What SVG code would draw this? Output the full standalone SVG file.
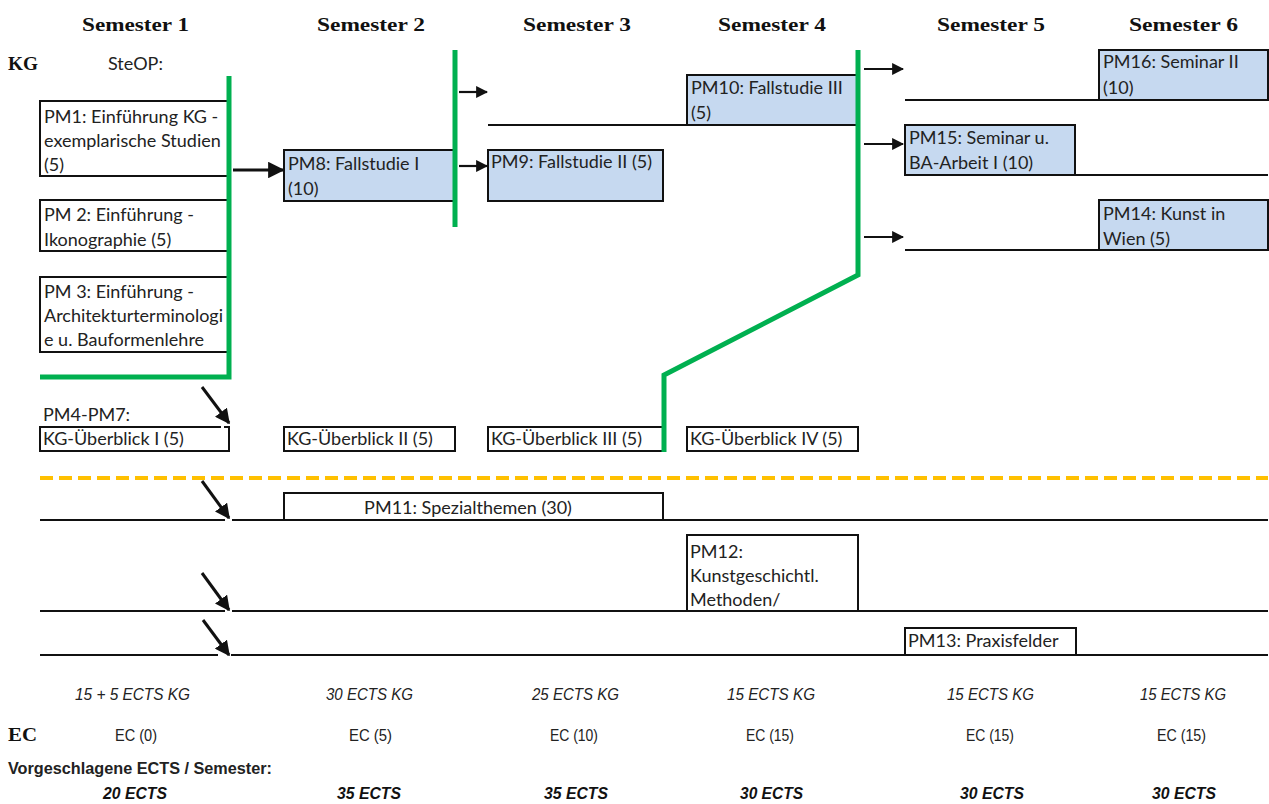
<svg xmlns="http://www.w3.org/2000/svg" width="1269" height="804" viewBox="0 0 1269 804">
<defs>
<style>
.hdr{font-family:"Liberation Serif","DejaVu Serif",serif;font-weight:bold;font-size:19px;fill:#111}
.t{font-family:Lato,"Noto Sans",sans-serif;font-size:18px;fill:#222}
.box{fill:#fff;stroke:#111;stroke-width:2}
.blue{fill:#c6d9f0;stroke:#111;stroke-width:2}
.ln{stroke:#111;stroke-width:2;fill:none}
.green{stroke:#00b050;stroke-width:5;fill:none}
.arr{stroke:#111;stroke-width:2.2;fill:none}
.darr{stroke:#111;stroke-width:3;fill:none}
.it{font-family:"Liberation Sans",Arial,sans-serif;font-style:italic;font-size:16px;fill:#222}
.ec{font-family:"Liberation Sans",Arial,sans-serif;font-size:16px;fill:#222}
.bi{font-family:"Liberation Sans",Arial,sans-serif;font-style:italic;font-weight:bold;font-size:16px;fill:#111}
</style>
<marker id="ah" viewBox="0 0 10 10" refX="9" refY="5" markerWidth="5.5" markerHeight="5.5" orient="auto" markerUnits="strokeWidth">
<path d="M0,0 L10,5 L0,10 z" fill="#111"/>
</marker>
<marker id="ahd" viewBox="0 0 10 10" refX="9" refY="5" markerWidth="5" markerHeight="5" orient="auto" markerUnits="strokeWidth">
<path d="M0,0 L10,5 L0,10 z" fill="#111"/>
</marker>
</defs>
<rect width="1269" height="804" fill="#fff"/>

<g id="headers">
<text class="hdr" x="82" y="31" textLength="107" lengthAdjust="spacingAndGlyphs">Semester 1</text>
<text class="hdr" x="317" y="31" textLength="108" lengthAdjust="spacingAndGlyphs">Semester 2</text>
<text class="hdr" x="523" y="31" textLength="108" lengthAdjust="spacingAndGlyphs">Semester 3</text>
<text class="hdr" x="718" y="31" textLength="108" lengthAdjust="spacingAndGlyphs">Semester 4</text>
<text class="hdr" x="937" y="31" textLength="108" lengthAdjust="spacingAndGlyphs">Semester 5</text>
<text class="hdr" x="1129" y="31" textLength="109" lengthAdjust="spacingAndGlyphs">Semester 6</text>
<text class="hdr" x="8" y="70" textLength="30" lengthAdjust="spacingAndGlyphs">KG</text>
<text class="t" x="108" y="70">SteOP:</text>
</g>

<g id="lines">
<line class="ln" x1="488" y1="125" x2="856" y2="125"/>
<line class="ln" x1="905" y1="100" x2="1268" y2="100"/>
<line class="ln" x1="1075" y1="175" x2="1268" y2="175"/>
<line class="ln" x1="905" y1="250" x2="1100" y2="250"/>
<line class="ln" x1="40" y1="520" x2="225" y2="520"/>
<line class="ln" x1="232" y1="520" x2="1268" y2="520"/>
<line class="ln" x1="40" y1="611" x2="225" y2="611"/>
<line class="ln" x1="232" y1="611" x2="1268" y2="611"/>
<line class="ln" x1="40" y1="655" x2="218" y2="655"/>
<line class="ln" x1="231" y1="655" x2="1268" y2="655"/>
<line x1="40" y1="478" x2="1268" y2="478" stroke="#ffc000" stroke-width="4" stroke-dasharray="13,6"/>
</g>

<g id="pm1"><path class="box" d="M228,101 H40 V176 H228"/>
<text class="t" x="44" y="123">PM1: Einführung KG -</text>
<text class="t" x="44" y="147">exemplarische Studien</text>
<text class="t" x="44" y="171">(5)</text></g>
<g id="pm2"><path class="box" d="M228,200 H40 V251 H228"/>
<text class="t" x="44" y="221">PM 2: Einführung -</text>
<text class="t" x="44" y="246">Ikonographie (5)</text></g>
<g id="pm3"><path class="box" d="M228,277 H40 V352 H228"/>
<text class="t" x="44" y="298">PM 3: Einführung -</text>
<text class="t" x="44" y="322" textLength="179" lengthAdjust="spacingAndGlyphs">Architekturterminologi</text>
<text class="t" x="44" y="346">e u. Bauformenlehre</text></g>

<g id="pm8"><rect class="blue" x="284" y="150" width="171" height="51"/>
<text class="t" x="288" y="170">PM8: Fallstudie I</text>
<text class="t" x="288" y="195">(10)</text></g>
<g id="pm9"><rect class="blue" x="488" y="150" width="175" height="51"/>
<text class="t" x="491" y="168">PM9: Fallstudie II (5)</text></g>
<g id="pm10"><rect class="blue" x="687" y="75" width="170" height="50"/>
<text class="t" x="691" y="94">PM10: Fallstudie III</text>
<text class="t" x="691" y="119">(5)</text></g>
<g id="pm16"><rect class="blue" x="1099" y="50" width="169" height="50"/>
<text class="t" x="1103" y="68">PM16: Seminar II</text>
<text class="t" x="1103" y="94">(10)</text></g>
<g id="pm15"><rect class="blue" x="905" y="125" width="170" height="50"/>
<text class="t" x="909" y="144">PM15: Seminar u.</text>
<text class="t" x="909" y="169">BA-Arbeit I (10)</text></g>
<g id="pm14"><rect class="blue" x="1099" y="200" width="169" height="50"/>
<text class="t" x="1103" y="220">PM14: Kunst in</text>
<text class="t" x="1103" y="245">Wien (5)</text></g>

<g id="pm4-7">
<text class="t" x="43" y="421">PM4-PM7:</text>
<path class="box" d="M221,427 H40 V451 H229 V427 H224"/>
<text class="t" x="43" y="445">KG-Überblick I (5)</text>
</g>
<g id="kg2"><rect class="box" x="284" y="427" width="171" height="24"/>
<text class="t" x="287" y="445">KG-Überblick II (5)</text></g>
<g id="kg3"><rect class="box" x="488" y="427" width="176" height="24"/>
<text class="t" x="491" y="445">KG-Überblick III (5)</text></g>
<g id="kg4"><rect class="box" x="687" y="427" width="171" height="24"/>
<text class="t" x="690" y="445">KG-Überblick IV (5)</text></g>

<g id="pm11"><rect class="box" x="284" y="493" width="379" height="27"/>
<text class="t" x="468" y="514" text-anchor="middle">PM11: Spezialthemen (30)</text></g>
<g id="pm12"><rect class="box" x="687" y="535" width="171" height="76"/>
<text class="t" x="690" y="558">PM12:</text>
<text class="t" x="690" y="582">Kunstgeschichtl.</text>
<text class="t" x="690" y="606">Methoden/</text></g>
<g id="pm13"><rect class="box" x="905" y="628" width="171" height="27"/>
<text class="t" x="908" y="647">PM13: Praxisfelder</text></g>

<g id="green">
<polyline class="green" points="229,76 229,377 40,377"/>
<line class="green" x1="455" y1="50" x2="455" y2="227"/>
<polyline class="green" points="664,452 664,375 858,275 858,50"/>
</g>

<g id="connectors">
<line x1="233" y1="170" x2="283" y2="170" stroke="#111" stroke-width="3" marker-end="url(#ah)"/>
<line class="arr" x1="459" y1="92" x2="487" y2="92" marker-end="url(#ah)"/>
<line class="arr" x1="459" y1="166" x2="487" y2="166" marker-end="url(#ah)"/>
<line class="arr" x1="864" y1="69" x2="903" y2="69" marker-end="url(#ah)"/>
<line class="arr" x1="864" y1="144" x2="903" y2="144" marker-end="url(#ah)"/>
<line class="arr" x1="864" y1="237" x2="903" y2="237" marker-end="url(#ah)"/>
<line class="darr" x1="202" y1="387" x2="229" y2="423" marker-end="url(#ahd)"/>
<line class="darr" x1="202" y1="481" x2="229" y2="518" marker-end="url(#ahd)"/>
<line class="darr" x1="202" y1="573" x2="229" y2="610" marker-end="url(#ahd)"/>
<line class="darr" x1="203" y1="620" x2="229" y2="655" marker-end="url(#ahd)"/>
</g>

<g id="footer">
<text class="it" x="75" y="700" textLength="115" lengthAdjust="spacingAndGlyphs">15 + 5 ECTS KG</text>
<text class="it" x="326" y="700" textLength="87" lengthAdjust="spacingAndGlyphs">30 ECTS KG</text>
<text class="it" x="532" y="700" textLength="87" lengthAdjust="spacingAndGlyphs">25 ECTS KG</text>
<text class="it" x="727" y="700" textLength="88" lengthAdjust="spacingAndGlyphs">15 ECTS KG</text>
<text class="it" x="947" y="700" textLength="87" lengthAdjust="spacingAndGlyphs">15 ECTS KG</text>
<text class="it" x="1140" y="700" textLength="86" lengthAdjust="spacingAndGlyphs">15 ECTS KG</text>
<text class="hdr" x="8" y="741" textLength="29" lengthAdjust="spacingAndGlyphs">EC</text>
<text class="ec" x="115" y="741" textLength="42" lengthAdjust="spacingAndGlyphs">EC (0)</text>
<text class="ec" x="349" y="741" textLength="43" lengthAdjust="spacingAndGlyphs">EC (5)</text>
<text class="ec" x="550" y="741" textLength="48" lengthAdjust="spacingAndGlyphs">EC (10)</text>
<text class="ec" x="746" y="741" textLength="48" lengthAdjust="spacingAndGlyphs">EC (15)</text>
<text class="ec" x="966" y="741" textLength="48" lengthAdjust="spacingAndGlyphs">EC (15)</text>
<text class="ec" x="1157" y="741" textLength="49" lengthAdjust="spacingAndGlyphs">EC (15)</text>
<text class="ec" x="8" y="774" font-weight="bold" textLength="264" lengthAdjust="spacingAndGlyphs">Vorgeschlagene ECTS / Semester:</text>
<text class="bi" x="103" y="799" textLength="64" lengthAdjust="spacingAndGlyphs">20 ECTS</text>
<text class="bi" x="337" y="799" textLength="64" lengthAdjust="spacingAndGlyphs">35 ECTS</text>
<text class="bi" x="544" y="799" textLength="64" lengthAdjust="spacingAndGlyphs">35 ECTS</text>
<text class="bi" x="740" y="799" textLength="63" lengthAdjust="spacingAndGlyphs">30 ECTS</text>
<text class="bi" x="960" y="799" textLength="64" lengthAdjust="spacingAndGlyphs">30 ECTS</text>
<text class="bi" x="1152" y="799" textLength="64" lengthAdjust="spacingAndGlyphs">30 ECTS</text>
</g>
</svg>
